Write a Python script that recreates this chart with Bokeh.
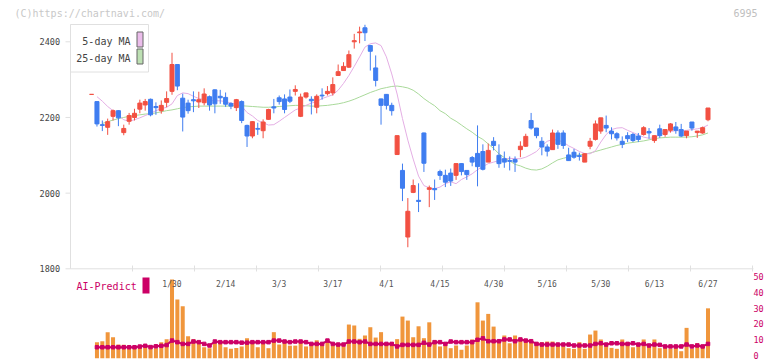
import math
from bokeh.plotting import figure
from bokeh.models import Range1d, ColumnDataSource
from bokeh.core.properties import value
from bokeh.embed import file_html
from bokeh.resources import INLINE

NaN = float("nan")

# ---------------- data ----------------
opens = [2261, 2242, 2181, 2174, 2203, 2218, 2160, 2190, 2200, 2222,
         2233, 2248, 2229, 2218, 2240, 2269, 2340, 2251, 2238, 2247,
         2241, 2239, 2255, 2273, 2256, 2253, 2237, 2226, 2242, 2179,
         2151, 2171, 2165, 2195, 2228, 2252, 2249, 2254, 2269, 2203,
         2254, 2248, 2227, 2259, 2263, 2265, 2311, 2324, 2333, 2400,
         2424, 2437, 2390, 2331, 2249, 2261, 2232, 2102, 2060, 1884,
         2002, 1981, 2159, 2010, 2012, 2057, 2047, 2053, 2047, 2078,
         2060, 2094, 2105, 2110, 2082, 2137, 2100, 2091, 2086, 2089,
         2115, 2124, 2192, 2172, 2137, 2122, 2115, 2159, 2159, 2101,
         2108, 2099, 2082, 2124, 2142, 2164, 2179, 2164, 2157, 2137,
         2152, 2155, 2151, 2155, 2163, 2139, 2170, 2155, 2166, 2175,
         2168, 2152, 2188, 2160, 2159, 2194]
closes = [2261, 2183, 2179, 2189, 2218, 2199, 2171, 2205, 2211, 2238,
          2242, 2207, 2226, 2232, 2250, 2340, 2283, 2201, 2218, 2244,
          2247, 2262, 2233, 2236, 2252, 2235, 2230, 2247, 2192, 2151,
          2189, 2169, 2188, 2221, 2225, 2242, 2221, 2243, 2274, 2254,
          2265, 2244, 2256, 2257, 2269, 2287, 2321, 2335, 2366, 2403,
          2426, 2424, 2375, 2298, 2232, 2232, 2218, 2152, 2013, 1952,
          2020, 1978, 2079, 2014, 2009, 2047, 2029, 2032, 2078, 2057,
          2049, 2082, 2070, 2063, 2113, 2126, 2078, 2082, 2084, 2082,
          2124, 2150, 2172, 2152, 2122, 2111, 2159, 2129, 2126, 2086,
          2095, 2097, 2104, 2137, 2183, 2199, 2172, 2157, 2146, 2129,
          2144, 2139, 2142, 2173, 2159, 2152, 2152, 2168, 2183, 2166,
          2151, 2164, 2172, 2164, 2173, 2225]
highs = [2261, 2242, 2192, 2197, 2221, 2219, 2181, 2212, 2223, 2247,
         2249, 2250, 2240, 2245, 2269, 2371, 2341, 2263, 2247, 2269,
         2268, 2277, 2258, 2274, 2273, 2266, 2240, 2249, 2245, 2181,
         2190, 2186, 2195, 2223, 2249, 2258, 2261, 2274, 2285, 2263,
         2266, 2256, 2261, 2277, 2283, 2306, 2340, 2346, 2377, 2421,
         2440, 2445, 2392, 2364, 2250, 2262, 2239, 2152, 2078, 1987,
         2036, 2026, 2160, 2020, 2036, 2062, 2062, 2065, 2078, 2079,
         2060, 2098, 2179, 2129, 2131, 2148, 2129, 2110, 2097, 2097,
         2137, 2157, 2212, 2172, 2148, 2129, 2168, 2166, 2166, 2120,
         2117, 2107, 2105, 2146, 2192, 2199, 2205, 2174, 2161, 2150,
         2161, 2159, 2159, 2177, 2172, 2152, 2181, 2168, 2185, 2188,
         2183, 2164, 2188, 2164, 2176, 2225]
lows = [2261, 2176, 2164, 2154, 2192, 2177, 2153, 2181, 2192, 2211,
        2218, 2203, 2207, 2210, 2227, 2260, 2272, 2163, 2210, 2214,
        2225, 2232, 2218, 2211, 2236, 2228, 2222, 2217, 2185, 2122,
        2145, 2154, 2145, 2194, 2211, 2234, 2211, 2238, 2258, 2201,
        2250, 2208, 2211, 2247, 2258, 2258, 2311, 2323, 2331, 2382,
        2396, 2402, 2324, 2282, 2181, 2221, 2205, 2102, 1979, 1857,
        2000, 1950, 2056, 1963, 1982, 2035, 2016, 2019, 2035, 2047,
        2035, 2071, 2018, 2060, 2082, 2113, 2067, 2067, 2060, 2056,
        2095, 2122, 2168, 2145, 2100, 2097, 2115, 2117, 2117, 2085,
        2091, 2086, 2082, 2116, 2139, 2157, 2161, 2142, 2139, 2119,
        2135, 2135, 2135, 2152, 2144, 2133, 2146, 2149, 2160, 2157,
        2148, 2145, 2165, 2146, 2157, 2190]
ma5 = [NaN, 2255, 2243, 2229, 2218, 2205, 2194, 2190, 2194, 2199,
       2205, 2211, 2218, 2223, 2227, 2236, 2258, 2265, 2263, 2256,
       2250, 2247, 2245, 2244, 2244, 2242, 2238, 2235, 2230, 2213,
       2204, 2192, 2186, 2180, 2181, 2190, 2200, 2210, 2220, 2225,
       2232, 2238, 2242, 2250, 2255, 2260, 2272, 2290, 2311, 2335,
       2360, 2386, 2395, 2397, 2390, 2360, 2315, 2262, 2197, 2140,
       2090, 2045, 2020, 2014, 2012, 2016, 2025, 2030, 2025, 2036,
       2043, 2051, 2062, 2070, 2078, 2082, 2086, 2090, 2092, 2091,
       2091, 2095, 2102, 2110, 2125, 2137, 2142, 2140, 2135, 2125,
       2118, 2110, 2105, 2104, 2112, 2135, 2155, 2168, 2172, 2173,
       2166, 2160, 2154, 2148, 2145, 2146, 2155, 2161, 2163, 2165,
       2165, 2166, 2168, 2170, 2173, 2180]
ma25 = [NaN, NaN, 2184, 2189, 2193, 2197, 2200, 2203, 2205, 2207,
        2209, 2210, 2212, 2215, 2218, 2220, 2223, 2226, 2228, 2229,
        2230, 2230, 2230, 2230, 2230, 2230, 2230, 2231, 2231, 2230,
        2229, 2228, 2227, 2227, 2228, 2229, 2230, 2231, 2232, 2232,
        2231, 2230, 2230, 2231, 2232, 2234, 2236, 2239, 2243, 2248,
        2254, 2260, 2266, 2271, 2276, 2279, 2282, 2283, 2281, 2278,
        2272, 2262, 2250, 2240, 2231, 2218, 2210, 2198, 2190, 2180,
        2170, 2161, 2150, 2142, 2130, 2118, 2104, 2094, 2085, 2076,
        2072, 2066, 2062, 2061, 2064, 2071, 2080, 2088, 2092, 2096,
        2099, 2101, 2103, 2106, 2110, 2114, 2118, 2122, 2126, 2129,
        2132, 2134, 2136, 2138, 2141, 2144, 2146, 2147, 2148, 2148,
        2148, 2148, 2149, 2151, 2154, 2159]
volume = [NaN, 10.1, 10.7, 16.4, 13.2, 8.6, 8.4, 7.4, 7.4, 7.4,
          7.4, 6.3, 6.3, 10.1, 12.0, 49.5, 36.9, 32.7, 13.8, 12.0,
          10.5, 6.9, 6.3, 9.4, 10.7, 6.9, 5.9, 6.5, 7.4, 12.6,
          9.4, 6.9, 9.4, 6.3, 16.4, 8.6, 11.3, 7.9, 7.9, 10.1,
          7.4, 9.0, 11.3, 9.4, 10.7, 7.9, 9.0, 7.4, 21.2, 20.6,
          12.2, 14.3, 19.5, 13.0, 16.4, 9.0, 10.1, 12.0, 26.2, 23.7,
          13.2, 20.1, 12.6, 22.6, 11.1, 7.4, 8.6, 6.3, 8.0, 5.3,
          8.0, 11.8, 35.2, 23.7, 27.9, 19.9, 10.1, 14.3, 9.4, 14.3,
          11.1, 11.8, 10.5, 10.1, 10.1, 10.5, 10.5, 9.0, 7.4, 6.3,
          5.9, 10.1, 5.9, 14.9, 17.4, 11.8, 8.0, 6.5, 5.9, 11.8,
          10.1, 6.9, 8.0, 11.8, 7.5, 11.8, 6.3, 7.4, 5.9, 6.5,
          4.4, 19.1, 5.9, 9.4, 7.4, 31.4]
ai_predict = [NaN, 6.9, 6.9, 6.9, 6.9, 6.9, 6.9, 6.9, 6.9, 7.3,
              7.8, 7.0, 7.5, 7.8, 8.3, 11.1, 10.1, 9.0, 9.0, 10.5,
              10.1, 9.0, 8.0, 10.5, 10.1, 10.1, 10.1, 10.1, 9.8, 9.8,
              10.1, 10.1, 10.1, 10.1, 11.1, 11.1, 10.5, 10.1, 10.5, 10.5,
              10.1, 9.0, 9.0, 9.0, 11.1, 9.0, 8.6, 8.6, 10.5, 10.5,
              10.1, 10.5, 9.0, 9.0, 9.0, 9.0, 9.0, 7.4, 8.4, 8.4,
              8.4, 8.4, 9.7, 8.6, 10.1, 10.1, 9.0, 10.5, 10.1, 10.1,
              10.1, 10.1, 11.6, 12.5, 10.7, 10.7, 10.7, 11.8, 11.8, 10.7,
              11.8, 11.1, 10.7, 9.0, 8.6, 8.6, 8.6, 8.6, 8.6, 8.6,
              8.0, 8.0, 8.0, 8.0, 9.0, 9.4, 8.6, 9.4, 9.4, 9.0,
              9.0, 9.4, 8.6, 9.0, 8.0, 8.6, 8.4, 7.4, 7.4, 7.4,
              7.4, 8.6, 7.4, 8.0, 7.4, 9.0]
date_tick_pos = [15, 25, 35, 45, 55, 65, 75, 85, 95, 105, 115]
date_tick_labels = ["1/30", "2/14", "3/3", "3/17", "4/1", "4/15",
                    "4/30", "5/16", "5/30", "6/13", "6/27"]
price_ticks = [1800, 2000, 2200, 2400]
ai_ticks = [0, 10, 20, 30, 40, 50]
legend_names = ["5-day MA", "25-day MA"]
watermark = ["(C)https://chartnavi.com/"]
code_label = ["6995"]
ai_name = ["AI-Predict"]

# ---------------- layout (the frame fills the whole canvas) ----------------
W, H = 772, 361
CANDLE0_PX, CANDLE_STEP_PX = 91.1, 5.36          # x of candle 0, px per candle
PRICE_REF_PX, PRICE_PX_PER_UNIT = 268.3, 0.37833  # y of 1800, scale
AI_ZERO_PX, AI_PX_PER_UNIT = 357.7, 1.588

X0 = (0 - CANDLE0_PX) / CANDLE_STEP_PX
X1 = (W - CANDLE0_PX) / CANDLE_STEP_PX
Y0 = 1800 - (H - PRICE_REF_PX) / PRICE_PX_PER_UNIT
Y1 = 1800 + PRICE_REF_PX / PRICE_PX_PER_UNIT
V0 = -(H - AI_ZERO_PX) / AI_PX_PER_UNIT
V1 = AI_ZERO_PX / AI_PX_PER_UNIT

def px_x(px):
    return X0 + px * (X1 - X0) / W

def px_y(py):
    return Y1 - py * (Y1 - Y0) / H

def px_v(py):
    return V1 - py * (V1 - V0) / H

MONO = "DejaVu Sans Mono"
RED, BLUE = "#f25042", "#3f7df0"
AXIS_GRAY = "#e0e0e0"
MAGENTA = "#cc0066"

p = figure(width=W, height=H, output_backend="svg", toolbar_location=None,
           x_range=Range1d(X0, X1), y_range=Range1d(Y0, Y1),
           x_axis_location=None, y_axis_location=None,
           min_border=0, min_border_left=0, min_border_right=0,
           min_border_top=0, min_border_bottom=0)
p.extra_y_ranges = {"ai": Range1d(V0, V1)}
p.xgrid.visible = False
p.ygrid.visible = False
p.outline_line_color = None
p.background_fill_color = "white"
p.border_fill_color = "white"

# ---- price axis (left) ----
p.segment(x0=[px_x(70)], y0=[1800], x1=[px_x(70)], y1=[px_y(24)],
          line_color=AXIS_GRAY, line_width=1)
p.segment(x0=[px_x(65)] * len(price_ticks), y0=price_ticks,
          x1=[px_x(70)] * len(price_ticks), y1=price_ticks,
          line_color=AXIS_GRAY, line_width=1)
p.text(x=[px_x(59.5)] * len(price_ticks), y=price_ticks,
       text=[str(t) for t in price_ticks],
       text_font=value(MONO), text_font_size="8.5px", text_color="#444444",
       text_align="right", text_baseline="middle")

# ---- bottom line of the price panel with its fixed ticks ----
p.segment(x0=[px_x(70)], y0=[1800], x1=[px_x(753)], y1=[1800],
          line_color=AXIS_GRAY, line_width=1)
grid_x = [px_x(70 + k * 62) for k in range(1, 12)]
p.segment(x0=grid_x, y0=[px_y(265)] * len(grid_x), x1=grid_x, y1=[px_y(271)] * len(grid_x),
          line_color=AXIS_GRAY, line_width=1)

n = len(closes)
idx = list(range(n))

# ---- AI panel ----
p.vbar(x=idx, top=volume, bottom=0, width=0.75, y_range_name="ai",
       fill_color="#f0963c", line_color=None)
p.line(idx, ai_predict, y_range_name="ai", line_color=MAGENTA, line_width=2)
p.scatter(idx, ai_predict, y_range_name="ai", marker="square", size=3.5,
          fill_color=MAGENTA, line_color=MAGENTA)
p.text(x=[px_x(753)] * len(ai_ticks), y=ai_ticks, y_range_name="ai",
       text=[str(t) for t in ai_ticks],
       text_font=value(MONO), text_font_size="8.5px", text_color=MAGENTA,
       text_align="left", text_baseline="middle", y_offset=-2.5)

# ---- moving averages ----
p.line(idx, ma25, line_color="#a9d99a", line_width=1)
p.line(idx, ma5, line_color="#e4aee4", line_width=1)

# ---- candles ----
colors = [RED if c >= o else BLUE for o, c in zip(opens, closes)]
src = ColumnDataSource(dict(x=idx, h=highs, l=lows,
                            top=[max(o, c) for o, c in zip(opens, closes)],
                            bottom=[min(o, c) for o, c in zip(opens, closes)],
                            color=colors))
p.segment(x0="x", y0="l", x1="x", y1="h", source=src, line_color="color", line_width=1)
p.vbar(x="x", width=0.75, top="top", bottom="bottom", source=src,
       fill_color="color", line_color="color", line_width=1)

# ---- date labels ----
dsrc = ColumnDataSource(dict(x=date_tick_pos, y=[px_v(283.5)] * len(date_tick_pos),
                             t=date_tick_labels))
p.text(x="x", y="y", text="t", source=dsrc, y_range_name="ai",
       text_font=value(MONO), text_font_size="8px", text_color="#555555",
       text_align="center", text_baseline="middle")

# ---- legend ----
p.quad(left=[px_x(70)], right=[px_x(148)], top=[px_y(24)], bottom=[px_y(71.5)],
       fill_color="white", line_color=AXIS_GRAY, line_width=1)
p.text(x=[px_x(130)] * 2, y=[px_y(41), px_y(57.5)], text=legend_names,
       text_font=value(MONO), text_font_size="10px", text_color="#444444",
       text_align="right", text_baseline="middle")
p.quad(left=[px_x(136.5)] * 2, right=[px_x(142.5)] * 2,
       top=[px_y(31.5), px_y(48.5)], bottom=[px_y(46.5), px_y(63.5)],
       fill_color=["#ebbdeb", "#bde0b3"], line_color="#666666", line_width=1)

# ---- AI-Predict label + swatch ----
p.text(x=[px_x(76)], y=[px_v(286)], y_range_name="ai", text=ai_name,
       text_font=value(MONO), text_font_size="10px", text_color=MAGENTA,
       text_align="left", text_baseline="middle")
p.quad(left=[px_x(142)], right=[px_x(149)], top=[px_v(277)], bottom=[px_v(293)],
       y_range_name="ai", fill_color=MAGENTA, line_color=None)

# ---- watermark and code ----
p.text(x=[px_x(14)], y=[px_y(12.5)], text=watermark, text_font=value(MONO),
       text_font_size="10px", text_color="#c8c8c8",
       text_align="left", text_baseline="middle")
p.text(x=[px_x(757)], y=[px_y(12.5)], text=code_label, text_font=value(MONO),
       text_font_size="10px", text_color="#c0c0c0",
       text_align="right", text_baseline="middle")

open("out.html", "w").write(file_html(p, INLINE))
